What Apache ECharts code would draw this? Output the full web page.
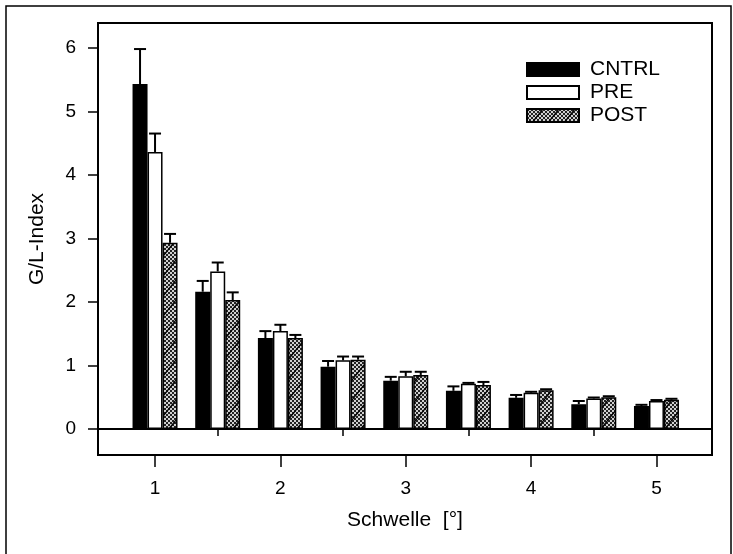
<!DOCTYPE html>
<html>
<head>
<meta charset="utf-8">
<script src="https://cdn.jsdelivr.net/npm/echarts@6/dist/echarts.min.js"></script>
<style>
  html, body { margin: 0; padding: 0; background: #fff; }
  #chart { width: 733px; height: 554px; }
</style>
</head>
<body>
<div id="chart"></div>
<script>
// Threshold (Schwelle) positions in degrees
const thresholds = [1, 1.5, 2, 2.5, 3, 3.5, 4, 4.5, 5];
const seriesNames = ['CNTRL', 'PRE', 'POST'];

// Mean G/L-index per threshold
const cntrlMean = [5.43, 2.16, 1.43, 0.98, 0.76, 0.60, 0.49, 0.39, 0.36];
const preMean   = [4.36, 2.48, 1.54, 1.08, 0.83, 0.71, 0.57, 0.48, 0.44];
const postMean  = [2.93, 2.03, 1.43, 1.09, 0.85, 0.69, 0.61, 0.50, 0.46];

// Upper error (SEM) per threshold
const cntrlErr = [0.55, 0.17, 0.11, 0.09, 0.06, 0.07, 0.045, 0.05, 0.02];
const preErr   = [0.29, 0.14, 0.10, 0.06, 0.07, 0.015, 0.015, 0.015, 0.015];
const postErr  = [0.14, 0.12, 0.05, 0.05, 0.05, 0.05, 0.015, 0.015, 0.015];

// Axis tick values
const yTicks = [0, 1, 2, 3, 4, 5, 6];
const xMajorTicks = [1, 2, 3, 4, 5];
const xMinorTicks = [1.5, 2.5, 3.5, 4.5];

const FONT = '"Liberation Sans", Arial, Helvetica, sans-serif';
const BAR_W = 15;

// Halftone fill with sparse diagonal strokes for the POST bars
function makeHatch() {
  const c = document.createElement('canvas');
  c.width = 16; c.height = 20;
  const g = c.getContext('2d');
  g.fillStyle = '#d0d0d0';
  g.fillRect(0, 0, 16, 20);
  g.fillStyle = '#222';
  for (let y = 0; y < 20; y += 2) {
    for (let x = 0; x < 16; x += 2) {
      if (((x + y) / 2) % 2 === 0) g.fillRect(x, y, 2, 2);
    }
  }
  g.strokeStyle = '#000';
  g.lineWidth = 1.3;
  g.beginPath();
  g.moveTo(0, 20); g.lineTo(16, 0);
  g.stroke();
  return c;
}
const hatch = makeHatch();

const means = [cntrlMean, preMean, postMean];
const errs = [cntrlErr, preErr, postErr];
const fills = ['#000', '#fff', { image: hatch, repeat: 'repeat' }];
const offsets = [-BAR_W, 0, BAR_W];

const barSeries = seriesNames.map((name, i) => ({
  name: name,
  type: 'bar',
  xAxisIndex: 0,
  barWidth: BAR_W,
  barGap: '0%',
  data: thresholds.map((t, k) => [t, means[i][k]]),
  itemStyle: { color: fills[i], borderColor: '#000', borderWidth: 1.5 },
  emphasis: { disabled: true },
  z: 2,
  markLine: i === 0 ? {
    silent: true,
    symbol: ['none', 'none'],
    label: { show: false },
    lineStyle: { color: '#000', width: 2, type: 'solid' },
    data: [{ yAxis: 0 }]
  } : undefined
}));

const errSeries = seriesNames.map((name, i) => ({
  name: name + ' SEM',
  type: 'custom',
  xAxisIndex: 0,
  z: 3,
  silent: true,
  data: thresholds.map((t, k) => [t, means[i][k], errs[i][k]]),
  renderItem: function (params, api) {
    const x = api.value(0), m = api.value(1), e = api.value(2);
    const p0 = api.coord([x, m]);
    const p1 = api.coord([x, m + e]);
    const cx = p0[0] + offsets[i];
    const style = { stroke: '#000', lineWidth: 2 };
    return {
      type: 'group',
      children: [
        { type: 'line', shape: { x1: cx, y1: p0[1], x2: cx, y2: p1[1] }, style: style },
        { type: 'line', shape: { x1: cx - 6, y1: p1[1], x2: cx + 6, y2: p1[1] }, style: style }
      ]
    };
  }
}));

const chart = echarts.init(document.getElementById('chart'), null, { renderer: 'canvas' });
chart.setOption({
  animation: false,
  backgroundColor: '#fff',
  textStyle: { fontFamily: FONT, color: '#000' },
  grid: {
    left: 98, right: 21, top: 23, bottom: 99,
    show: true, borderColor: '#000', borderWidth: 2
  },
  legend: {
    data: seriesNames,
    orient: 'vertical',
    left: 526, top: 59,
    padding: 0,
    icon: 'rect',
    itemWidth: 52, itemHeight: 13, itemGap: 2,
    selectedMode: false,
    textStyle: { fontFamily: FONT, fontSize: 21, color: '#000', padding: [0, 0, 0, 6] }
  },
  xAxis: [{
    type: 'value',
    min: 0.545, max: 5.443,
    position: 'bottom',
    name: 'Schwelle  [°]',
    nameLocation: 'middle',
    nameGap: 55,
    nameTextStyle: { fontFamily: FONT, fontSize: 21, color: '#000' },
    axisLine: { show: true, onZero: false, lineStyle: { color: '#000', width: 2 } },
    axisTick: { show: true, customValues: xMajorTicks, length: 12, lineStyle: { color: '#000', width: 1.5 } },
    axisLabel: { customValues: xMajorTicks, fontFamily: FONT, fontSize: 19, color: '#000', margin: 24 },
    splitLine: { show: false }
  }, {
    type: 'value',
    min: 0.545, max: 5.443,
    position: 'bottom',
    axisLine: { show: false },
    axisTick: { show: true, customValues: xMinorTicks, length: 7, lineStyle: { color: '#000', width: 1.5 } },
    axisLabel: { show: false },
    splitLine: { show: false }
  }],
  yAxis: {
    type: 'value',
    min: -0.41, max: 6.39,
    name: 'G/L-Index',
    nameLocation: 'middle',
    nameGap: 50,
    nameRotate: 90,
    nameTextStyle: { fontFamily: FONT, fontSize: 21, color: '#000' },
    axisLine: { show: true, lineStyle: { color: '#000', width: 2 } },
    axisTick: { show: true, customValues: yTicks, length: 10, lineStyle: { color: '#000', width: 1.5 } },
    axisLabel: { customValues: yTicks, fontFamily: FONT, fontSize: 19, color: '#000', margin: 22 },
    splitLine: { show: false }
  },
  graphic: [{
    type: 'rect',
    silent: true,
    shape: { x: 6, y: 6, width: 725, height: 560 },
    style: { fill: null, stroke: '#000', lineWidth: 1.5 }
  }],
  series: barSeries.concat(errSeries)
});
</script>
</body>
</html>
